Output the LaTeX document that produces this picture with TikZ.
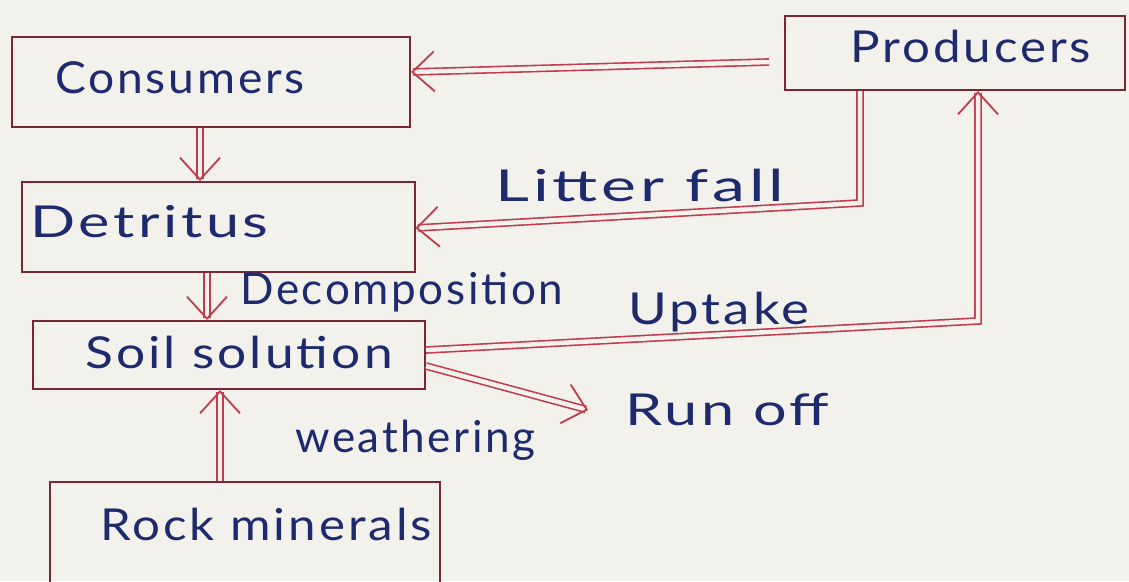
\documentclass[tikz,border=0pt]{standalone}
\usepackage{fontspec}
\setmainfont{Lato}[LetterSpace=6]
\usetikzlibrary{arrows.meta}
\definecolor{paper}{HTML}{F3F1EC}
\definecolor{boxline}{HTML}{7A2634}
\definecolor{arrowred}{HTML}{C23A4E}
\definecolor{ink}{HTML}{1E2A6E}
\tikzset{
  box/.style={draw=boxline, line width=2pt, minimum width=#1, inner sep=0pt},
  boxtxt/.style={text=ink, font=\fontsize{44}{50}\selectfont, inner sep=0pt},
  lbl/.style={text=ink, font=\fontsize{44}{50}\selectfont, inner sep=0pt},
  dbl/.style={draw=arrowred, line width=1.6pt, double=paper, double distance=4.5pt,
              -{Straight Barb[length=22pt,width=40pt,line width=1.8pt]}, line join=miter},
}
\begin{document}
\begin{tikzpicture}[x=1pt,y=-1pt]
\fill[paper] (0,0) rectangle (1129,581);
\useasboundingbox (0,0) rectangle (1129,581);
% boxes
\node[box=398pt, minimum height=90pt] (cons) at (211,82) {};
\node[boxtxt, anchor=west] (tcons) at (55,78) {\scalebox{1.05}[1]{Consumers}};
\node[box=393pt, minimum height=90pt] (det) at (218,227) {};
\node[boxtxt, anchor=west] (tdet) at (30,222) {\scalebox{1.35}[1]{Detritus}};
\node[box=392pt, minimum height=68pt] (soil) at (229,355) {};
\node[boxtxt, anchor=west] (tsoil) at (85,352) {\scalebox{1.17}[1]{Soil solution}};
\node[box=390pt, minimum height=130pt] (rock) at (245,547) {};
\node[boxtxt, anchor=west] (trock) at (100,524) {\scalebox{1.12}[1]{Rock minerals}};
\node[box=340pt, minimum height=74pt] (prod) at (955,53) {};
\node[boxtxt, anchor=west] (tprod) at (850,46) {\scalebox{1.12}[1]{Producers}};
% labels
\node[lbl, anchor=west] (llit) at (495,185) {\scalebox{1.5}[1]{Litter fall}};
\node[lbl, anchor=west] (ldec) at (240,292) {Decomposition};
\node[lbl, anchor=west] (lupt) at (628,312) {\scalebox{1.2}[1]{Uptake}};
\node[lbl, anchor=west] (lrun) at (625,410) {\scalebox{1.35}[1]{Run off}};
\node[lbl, anchor=west] (lwea) at (295,440) {weathering};
% connectors
\coordinate (pc) at ([xshift=-15pt]prod.west |- 0,62);
\draw[dbl] (pc) -- (cons.east |- 0,72);
\draw[dbl] (prod.south -| 860,0) -- (860,203) -- (det.east |- 0,228);
\draw[dbl] (cons.south -| 200,0) -- (det.north -| 200,0);
\draw[dbl] (det.south -| 207,0) -- (soil.north -| 207,0);
\draw[dbl] (rock.north -| 220,0) -- (soil.south -| 220,0);
\draw[dbl] (soil.east |- 0,350) -- (978,321) -- (prod.south -| 978,0);
\coordinate (roend) at (588,410);
\draw[dbl] (soil.east |- 0,366) -- (roend);
\end{tikzpicture}
\end{document}
